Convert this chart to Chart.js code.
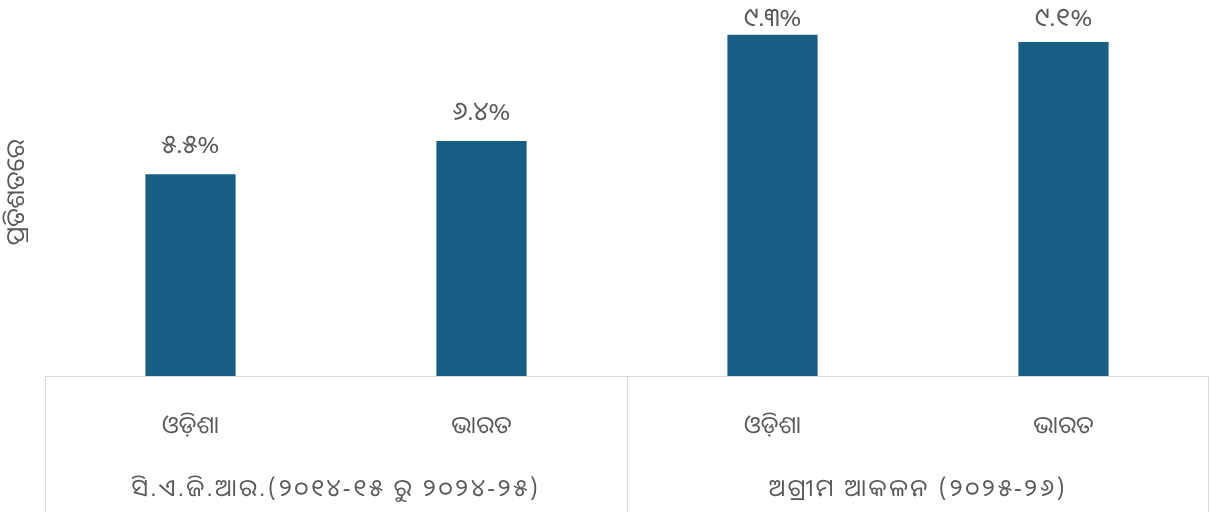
<!DOCTYPE html>
<html>
<head>
<meta charset="utf-8">
<script src="https://cdn.jsdelivr.net/npm/chart.js@4.4.0/dist/chart.umd.min.js"></script>
<style>
  body { margin: 0; background: #fff; }
  #wrap { width: 1210px; height: 512px; }
</style>
</head>
<body>
<div id="wrap"><canvas id="chartContainer" width="1210" height="512"></canvas></div>
<script>
const categories = ['ଓଡ଼ିଶା', 'ଭାରତ', 'ଓଡ଼ିଶା', 'ଭାରତ'];
const groups = ['ସି.ଏ.ଜି.ଆର.(୨୦୧୪-୧୫ ରୁ ୨୦୨୪-୨୫)', 'ଅଗ୍ରୀମ ଆକଳନ (୨୦୨୫-୨୬)'];
const groupSize = [2, 2];
const growth = [5.5, 6.4, 9.3, 9.1];
const yTitle = 'ପ୍ରତିଶତରେ';

const textColor = '#595959';
const lineColor = '#d9d9d9';
const fontFamily = "'Noto Sans Oriya', 'Noto Sans', sans-serif";

// odia digits for the value labels
const odiaDigits = ['୦','୧','୨','୩','୪','୫','୬','୭','୮','୯'];
function toOdia(v) {
  return v.toFixed(1).replace(/[0-9]/g, d => odiaDigits[+d]) + '%';
}

const valueLabels = {
  id: 'valueLabels',
  afterDatasetsDraw(chart) {
    const ctx = chart.ctx;
    const meta = chart.getDatasetMeta(0);
    ctx.save();
    ctx.fillStyle = textColor;
    ctx.font = '26px ' + fontFamily;
    ctx.textAlign = 'center';
    ctx.textBaseline = 'middle';
    meta.data.forEach((bar, i) => {
      // keep labels inside the canvas like excel does for the tall bars
      const y = Math.max(bar.y - 29, 19);
      ctx.fillText(toOdia(growth[i]), bar.x, y);
    });
    ctx.restore();
  }
};

// second level of the category axis (groups + box lines)
const groupAxis = {
  id: 'groupAxis',
  afterDraw(chart) {
    const ctx = chart.ctx;
    const x = chart.scales.x;
    const top = x.top;
    const bottom = chart.height;
    const step = x.width / categories.length;
    ctx.save();
    ctx.strokeStyle = lineColor;
    ctx.lineWidth = 1;
    ctx.beginPath();
    ctx.moveTo(x.left, top + 0.5);
    ctx.lineTo(x.right, top + 0.5);
    let start = 0;
    const edges = [x.left];
    groupSize.forEach(n => { start += n; edges.push(x.left + start * step); });
    edges.forEach((px, i) => {
      const xx = Math.round(px) + (i === edges.length - 1 ? -0.5 : 0.5);
      ctx.moveTo(xx, top);
      ctx.lineTo(xx, bottom);
    });
    ctx.stroke();

    ctx.fillStyle = textColor;
    ctx.font = '24px ' + fontFamily;
    ctx.letterSpacing = '2.5px';
    ctx.textAlign = 'center';
    ctx.textBaseline = 'middle';
    groups.forEach((g, i) => {
      ctx.fillText(g, (edges[i] + edges[i + 1]) / 2, top + 113);
    });
    ctx.restore();
  }
};

new Chart(document.getElementById('chartContainer'), {
  type: 'bar',
  data: {
    labels: categories,
    datasets: [{
      data: growth,
      backgroundColor: '#165e83',
      categoryPercentage: 1,
      barPercentage: 0.31
    }]
  },
  options: {
    responsive: false,
    animation: false,
    layout: { padding: { top: 9, right: 1, left: 0, bottom: 0 } },
    plugins: { legend: { display: false }, tooltip: { enabled: false } },
    scales: {
      x: {
        grid: { display: false },
        border: { display: false },
        ticks: {
          color: textColor,
          font: { size: 24, family: fontFamily },
          padding: 28,
          maxRotation: 0
        },
        afterFit(scale) { scale.height = 136; }
      },
      y: {
        min: 0,
        max: 10,
        grid: { display: false },
        border: { display: false },
        ticks: { display: false },
        title: {
          display: true,
          text: yTitle,
          color: textColor,
          font: { size: 25, family: fontFamily },
          padding: { top: 2, bottom: 0 }
        },
        afterFit(scale) { scale.width = 45; }
      }
    }
  },
  plugins: [valueLabels, groupAxis]
});
</script>
</body>
</html>
